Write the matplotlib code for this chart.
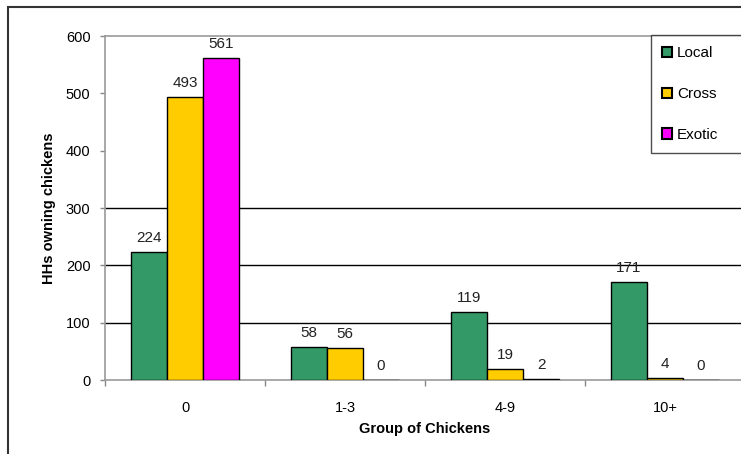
import matplotlib.pyplot as plt
import matplotlib.patches as mpatches
import numpy as np

plt.rcParams['font.family'] = ['Liberation Sans', 'DejaVu Sans']

groups = ['0', '1-3', '4-9', '10+']
series = ['Local', 'Cross', 'Exotic']
local = [224, 58, 119, 171]
cross = [493, 56, 19, 4]
exotic = [561, 0, 2, 0]
colors = ['#339966', '#FFCC00', '#FF00FF']
grid_vals = [100, 200, 300]

W, H = 741, 454
fig = plt.figure(figsize=(W / 100, H / 100), dpi=100)

# outer frame of the pasted chart (runs off the right/bottom edges)
frame = mpatches.Rectangle((8 / W, -0.1), 1.2, 1 - 7 / H + 0.1,
                           transform=fig.transFigure, fill=False,
                           edgecolor='#333333', linewidth=1.5, clip_on=False)
fig.patches.append(frame)

ax = fig.add_axes([105 / W, 1 - 380 / H, 640 / W, 344 / H])

x = np.arange(len(groups))
bw = 0.225
for i, (name, vals) in enumerate(zip(series, [local, cross, exotic])):
    pos = x + (i - 1) * bw
    ax.bar(pos, vals, bw, color=colors[i], edgecolor='black',
           linewidth=1.0, label=name, zorder=3)
    for p, v in zip(pos, vals):
        ax.annotate(str(v), (p, v), xytext=(0, 5), textcoords='offset points',
                    ha='center', va='bottom', fontsize=11, color='#222222')

for g in grid_vals:
    ax.axhline(g, color='black', linewidth=1.0, zorder=1)

ax.set_xlim(-0.5, len(groups) - 0.5)
ax.set_ylim(0, 600)
ax.set_yticks(range(0, 601, 100))
ax.set_xticks(x)
ax.set_xticklabels(groups)
ax.set_xticks(np.arange(-0.5, len(groups), 1.0), minor=True)
ax.tick_params(axis='x', which='major', length=0, pad=15, labelsize=10.5)
ax.tick_params(axis='x', which='minor', length=4, color='#888888', width=1)
ax.tick_params(axis='y', length=3.5, color='#888888', width=1, labelsize=10.5, pad=7)

for s in ['left', 'top', 'bottom', 'right']:
    ax.spines[s].set_color('#999999')
    ax.spines[s].set_linewidth(1.2)

ax.set_xlabel('Group of Chickens', fontsize=10.5, fontweight='bold', labelpad=5)
ax.set_ylabel('HHs owning chickens', fontsize=10.5, fontweight='bold', labelpad=7)

leg = ax.legend(loc='upper left', bbox_to_anchor=(651 / W, 1 - 151 / H, 120 / W, 116 / H),
                bbox_transform=fig.transFigure, borderaxespad=0, mode='expand',
                frameon=True, fancybox=False, fontsize=11,
                handlelength=0.65, handleheight=0.65, handletextpad=0.3,
                labelspacing=1.75, borderpad=0.75)
leg.get_frame().set_edgecolor('#222222')
leg.get_frame().set_linewidth(1.0)
for h in leg.legend_handles:
    h.set_linewidth(1.5)

fig.savefig('out.png', dpi=100)
